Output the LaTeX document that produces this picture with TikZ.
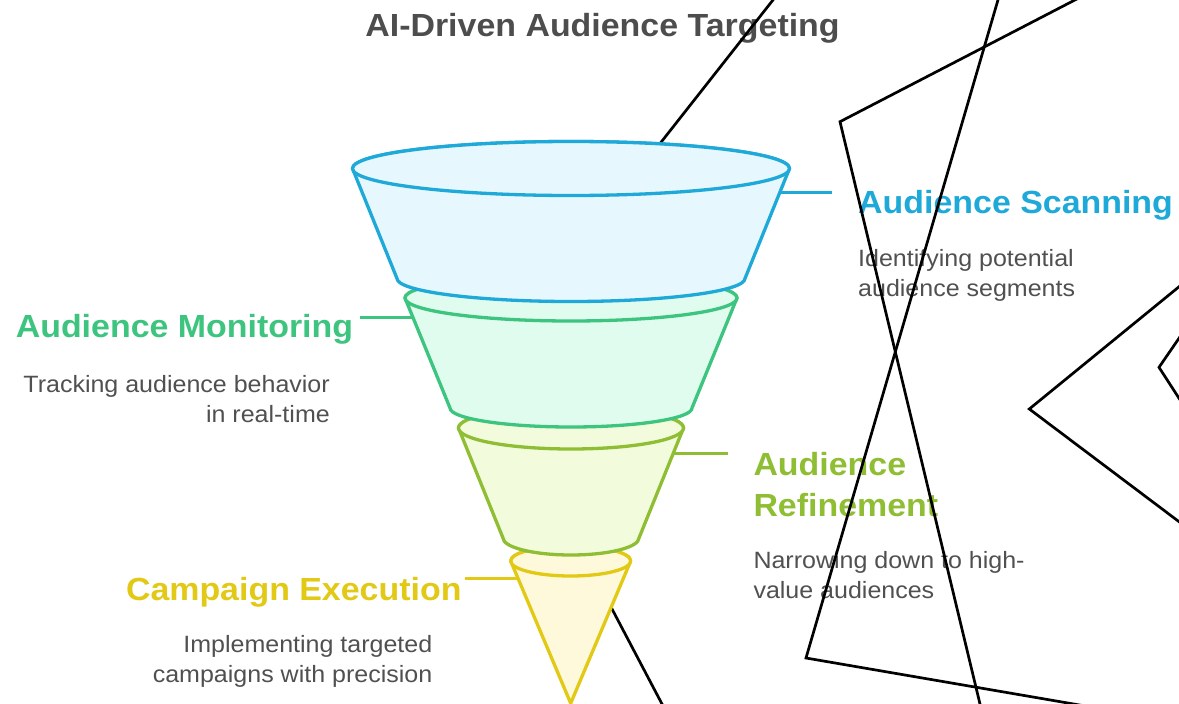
\documentclass[tikz,border=0pt]{standalone}
\usepackage{fontspec}
\setmainfont{Liberation Sans}[FakeStretch=1.06]
\definecolor{titlegray}{RGB}{77,77,77}
\definecolor{descgray}{RGB}{80,80,80}
\definecolor{scanblue}{RGB}{31,169,216}
\definecolor{scanfill}{RGB}{230,247,253}
\definecolor{monigreen}{RGB}{61,196,126}
\definecolor{monifill}{RGB}{224,252,238}
\definecolor{refolive}{RGB}{143,190,52}
\definecolor{refifill}{RGB}{242,252,220}
\definecolor{campyellow}{RGB}{225,201,22}
\definecolor{campfill}{RGB}{255,249,219}

\begin{document}
\begin{tikzpicture}[x=1pt,y=-1pt,
  head/.style={font=\fontsize{32}{41.7}\selectfont\bfseries,inner sep=0pt},
  desc/.style={font=\fontsize{23.6}{30}\selectfont,text=descgray,inner sep=0pt},
  layer/.style={line width=3.3pt,line join=round},
  link/.style={line width=3.3pt},
  stroke/.style={line width=2.7pt,black}]
\clip (0,0) rectangle (1179,704);

\node[font=\fontsize{32}{38}\selectfont\bfseries,text=titlegray,anchor=base,inner sep=0pt] (title) at (602.5,36) {AI-Driven Audience Targeting};

% labels (base anchor sits on the last line)
\node[head,text=scanblue,anchor=base west] (scan) at (858,213) {Audience Scanning};
\node[desc,anchor=base west,align=left] (scandesc) at (858,296) {Identifying potential\\audience segments};
\node[head,text=monigreen,anchor=base east] (moni) at (353.3,337.3) {Audience Monitoring};
\node[desc,anchor=base east,align=right] (monidesc) at (330,422) {Tracking audience behavior\\in real-time};
\node[head,text=refolive,anchor=base west,align=left] (refi) at (753.3,516.7) {Audience\\Refinement};
\node[desc,anchor=base west,align=left] (refidesc) at (753.3,598.3) {Narrowing down to high-\\value audiences};
\node[head,text=campyellow,anchor=base east] (camp) at (461.7,600.7) {Campaign Execution};
\node[desc,anchor=base east,align=right] (campdesc) at (432.5,682.3) {Implementing targeted\\campaigns with precision};

% strokes behind the funnel
\draw[stroke] (788.7,-20)--(484.5,366.6)--(672,723);
\draw[stroke] (1113.5,-20)--(840,121.7)--(984.8,724);
\draw[stroke] (1003.8,-20)--(806,658)--(1190,724);
\draw[stroke] (1195,273.7)--(1029.3,409)--(1195,533.7);
\draw[stroke] (1195,315)--(1159,367.3)--(1195,423);

% connectors
\coordinate (scanside) at (779.4,192.3);
\coordinate (moniside) at (412.9,317.3);
\coordinate (refiside) at (673.3,453.3);
\coordinate (campside) at (518.3,578.3);
\draw[link,scanblue,shorten >=26pt] (scanside)--(scanside-|scan.west);
\draw[link,monigreen,shorten <=6.7pt] (moniside-|moni.east)--(moniside);
\draw[link,refolive,shorten >=25pt] (refiside)--(refiside-|refi.west);
\draw[link,campyellow,shorten <=3.3pt] (campside-|camp.east)--(campside);

% funnel, bottom layer first
\draw[layer,campyellow,fill=campfill] (510.7,561)--(570.7,703.3)--(630.7,561) arc[start angle=0,end angle=-180,x radius=60,y radius=15]--cycle;
\draw[layer,campyellow,fill=campfill] (570.7,561) ellipse[x radius=60,y radius=15];

\draw[layer,refolive,fill=refifill] (458.5,428)--(503,538) arc[start angle=180,end angle=0,x radius=68,y radius=17]--(683.5,428) arc[start angle=0,end angle=-180,x radius=112.5,y radius=21]--cycle;
\draw[layer,refolive,fill=refifill] (571,428) ellipse[x radius=112.5,y radius=21];

\draw[layer,monigreen,fill=monifill] (405,298)--(450,408) arc[start angle=180,end angle=0,x radius=121,y radius=19]--(737,298) arc[start angle=0,end angle=-180,x radius=166,y radius=23]--cycle;
\draw[layer,monigreen,fill=monifill] (571,298) ellipse[x radius=166,y radius=23];

\draw[layer,scanblue,fill=scanfill] (352.5,168.5)--(397,278.5) arc[start angle=180,end angle=0,x radius=174,y radius=23]--(789.5,168.5) arc[start angle=0,end angle=-180,x radius=218.5,y radius=27]--cycle;
\draw[layer,scanblue,fill=scanfill] (571,168.5) ellipse[x radius=218.5,y radius=27];

\end{tikzpicture}
\end{document}
